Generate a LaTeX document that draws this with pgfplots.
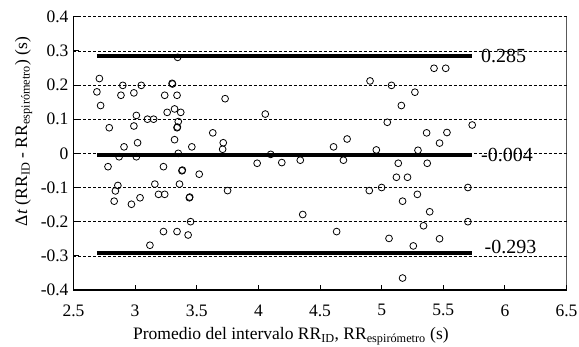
\documentclass[border=0pt]{standalone}
\usepackage{fontspec}
\setmainfont{Liberation Serif}
\usepackage{pgfplots}
\pgfplotsset{compat=1.18}
\pgfplotstableread{
x y
2.71 0.219
2.69 0.18
2.72 0.14
2.79 0.075
2.78 -0.039
2.87 -0.01
2.86 -0.094
2.84 -0.11
2.83 -0.14
2.90 0.199
2.885 0.17
2.91 0.019
2.97 -0.149
2.99 0.177
2.99 0.08
3.01 0.111
3.02 0.031
3.01 -0.01
3.04 -0.13
3.05 0.199
3.10 0.10
3.15 0.10
3.12 -0.269
3.16 -0.09
3.19 -0.12
3.24 -0.12
3.23 -0.039
3.24 0.17
3.23 -0.229
3.26 0.12
3.30 0.205
3.303 0.203
3.32 0.13
3.34 0.17
3.345 0.281
3.37 0.12
3.35 0.093
3.34 0.075
3.343 0.077
3.32 0.04
3.35 0.0
3.38 -0.051
3.383 -0.049
3.36 -0.09
3.34 -0.229
3.43 -0.239
3.44 -0.13
3.443 -0.128
3.45 -0.20
3.46 0.019
3.52 -0.061
3.63 0.06
3.73 0.16
3.715 0.031
3.71 0.012
3.75 -0.109
3.99 -0.029
4.056 0.115
4.10 -0.003
4.19 -0.027
4.34 -0.02
4.36 -0.179
4.61 0.019
4.635 -0.229
4.69 -0.02
4.72 0.042
4.906 0.212
4.90 -0.109
4.957 0.01
5.00 -0.1
5.046 0.091
5.06 -0.249
5.08 0.199
5.12 -0.07
5.135 -0.029
5.16 0.14
5.17 -0.14
5.17 -0.365
5.21 -0.07
5.257 -0.271
5.27 0.179
5.29 -0.12
5.295 0.009
5.34 -0.212
5.365 0.06
5.37 -0.029
5.39 -0.171
5.425 0.249
5.47 0.03
5.47 -0.25
5.52 0.249
5.53 0.061
5.70 -0.1
5.70 -0.2
5.735 0.083
}\pts
\begin{document}
\begin{tikzpicture}
\useasboundingbox (-73.5pt,-57pt) rectangle (505.5pt,290pt);
\begin{axis}[
  scale only axis, width=493pt, height=273.3pt,
  xmin=2.5, xmax=6.5, ymin=-0.4, ymax=0.4,
  enlargelimits=false,
  xtick={2.5,3,3.5,4,4.5,5,5.5,6,6.5},
  ytick={-0.4,-0.3,-0.2,-0.1,0,0.1,0.2,0.3,0.4},
  axis lines*=left,
  axis line style={-, line width=1.2pt, black},
  tick align=inside,
  major tick length=5pt,
  tick style={black, line width=0.9pt},
  ymajorgrids,
  major grid style={black, line width=0.6pt, dash pattern=on 3pt off 2pt},
  /pgf/number format/assume math mode=true,
  /pgf/number format/.cd, fixed, precision=1, /pgfplots/.cd,
  tick label style={font=\fontsize{17.5}{20}\selectfont},
  xticklabel style={yshift=-11pt},
  yticklabel style={xshift=-1.5pt},
  xlabel={Promedio del intervalo RR\textsubscript{ID}, RR\textsubscript{espirómetro} (s)},
  ylabel={Δ\textit{t} (RR\textsubscript{ID} - RR\textsubscript{espirómetro}) (s)},
  label style={font=\fontsize{17.5}{20}\selectfont},
  xlabel style={at={(axis description cs:0.441,-0.182)}, anchor=base},
  ylabel style={at={(axis description cs:-0.0943,0.58)}, anchor=base},
]
\addplot[black, line width=4pt] coordinates {(2.69,0.285) (5.73,0.285)};
\addplot[black, line width=4pt] coordinates {(2.69,-0.004) (5.73,-0.004)};
\addplot[black, line width=4pt] coordinates {(2.69,-0.293) (5.73,-0.293)};
\addplot[only marks, mark=o, mark size=3.4pt, mark options={line width=0.8pt, black}] table[x=x,y=y] {\pts};
\draw[line width=1.2pt, black] (rel axis cs:1,0) -- (rel axis cs:1,1);
\node[anchor=west, inner sep=0pt, font=\fontsize{20}{24}\selectfont] at (axis cs:5.806,0.285) {0.285};
\node[anchor=west, inner sep=0pt, font=\fontsize{20}{24}\selectfont] at (axis cs:5.806,-0.004) {-0.004};
\node[anchor=west, inner sep=0pt, font=\fontsize{20}{24}\selectfont] at (axis cs:5.835,-0.273) {-0.293};
\end{axis}
\end{tikzpicture}
\end{document}
